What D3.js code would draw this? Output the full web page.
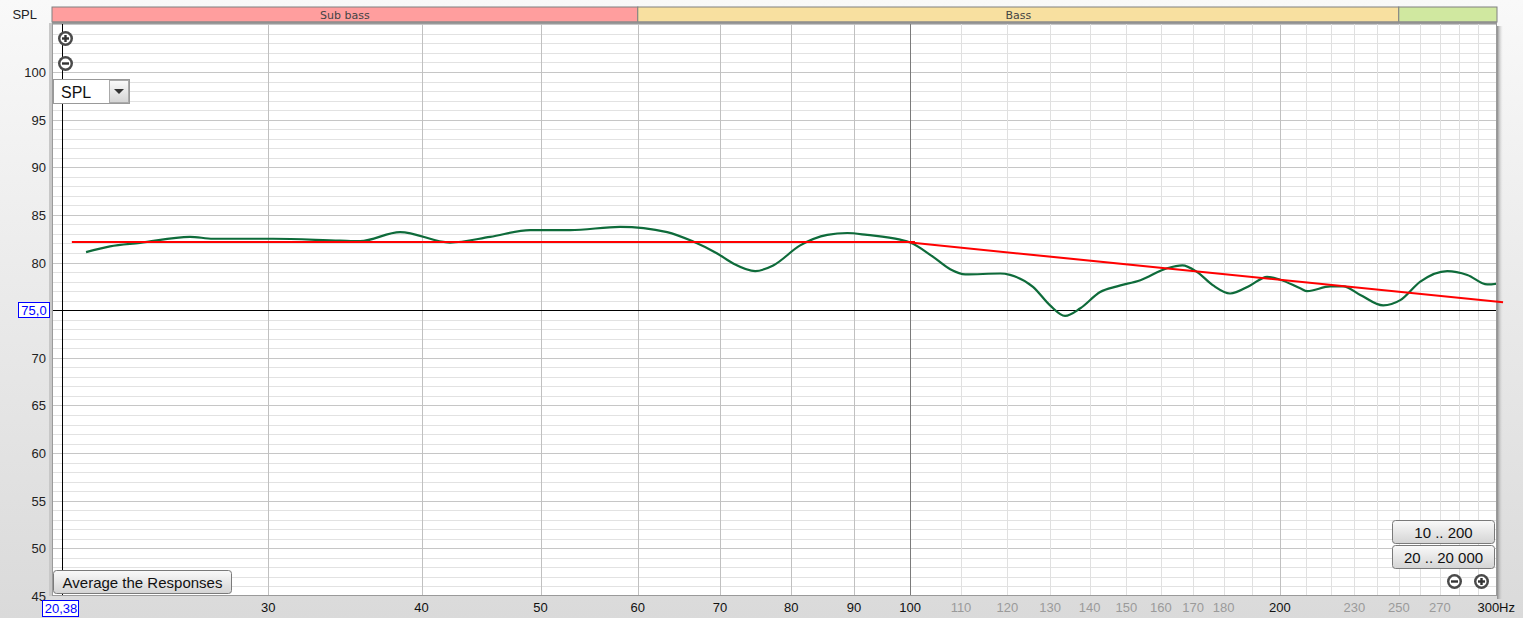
<!DOCTYPE html>
<html><head><meta charset="utf-8">
<script src="https://cdn.jsdelivr.net/npm/d3@7"></script>
<style>
html,body{margin:0;padding:0;overflow:hidden;background:#eee;}
text{font-family:"Liberation Sans",Arial,sans-serif;}
</style></head>
<body>
<svg id="c" width="1523" height="618"></svg>
<script>
// ---- data ----
const freqs = [21.32,22.30,23.59,25.91,27.05,30.27,34.33,35.64,38.42,42.19,45.49,49.03,52.86,58.04,63.40,66.57,69.64,71.76,74.78,77.35,81.36,85.60,88.87,92.26,98.15,100.0,104.4,107.8,110.9,118.4,120.6,125.9,130.0,133.7,137.6,142.8,147.4,154.0,161.9,166.6,171.3,176.5,182.2,189.2,195.3,200.2,207.8,210.6,219.9,225.3,232.6,242.8,250.7,260.3,273.8,284.3,295.1,300.7];
const spl   = [81.1,81.7,82.07,82.7,82.5,82.5,82.3,82.25,83.2,82.1,82.7,83.4,83.4,83.75,83.2,82.2,80.95,79.9,79.1,79.7,81.8,82.9,83.1,82.9,82.4,82.1,80.6,79.3,78.75,78.85,78.7,77.45,75.5,74.4,75.2,76.9,77.5,78.15,79.4,79.7,79.0,77.6,76.75,77.6,78.5,78.2,77.3,77.0,77.5,77.5,76.6,75.5,76.05,78.0,79.1,78.7,77.7,77.8];
const targetFlatFreq = [20.76, 100.9];
const targetFlatDb   = [82.15, 82.15];
const targetSlopeFreq = [100.0, 304.0];
const targetSlopeDb   = [82.1, 75.84];
const yTicks = [45,50,55,60,65,70,80,85,90,95,100];
const xTicksMajor = [30,40,50,60,70,80,90,100,200];
const xTicksMinorLabel = [110,120,130,140,150,160,170,180,230,250,270];
const bandNames = ["Sub bass","Bass",""];
const bandEdges = [[null,60],[60,250],[250,null]];
const bandColors = ["#FF9E9E","#F8E0A0","#D0E8A0"];

// ---- layout ----
const svg = d3.select("#c");
const L=52, R=1497, T=23, B=596;
const x = d3.scaleLog().domain([20.38,300]).range([62,1496]);
const y = d3.scaleLinear().domain([45,100]).range([596,72]);

const defs = svg.append("defs");
const bg = defs.append("linearGradient").attr("id","bg").attr("x1",0).attr("x2",0).attr("y1",0).attr("y2",1);
bg.append("stop").attr("offset","0%").attr("stop-color","#F9F9F9");
bg.append("stop").attr("offset","100%").attr("stop-color","#DADADA");
svg.append("rect").attr("width",1523).attr("height",618).attr("fill","url(#bg)");
const sh = defs.append("linearGradient").attr("id","sh").attr("x1",0).attr("x2",1).attr("y1",0).attr("y2",0);
sh.append("stop").attr("offset","0%").attr("stop-color","#888");
sh.append("stop").attr("offset","100%").attr("stop-color","#ddd").attr("stop-opacity",0);
const btn = defs.append("linearGradient").attr("id","btn").attr("x1",0).attr("x2",0).attr("y1",0).attr("y2",1);
btn.append("stop").attr("offset","0%").attr("stop-color","#FAFAFA");
btn.append("stop").attr("offset","100%").attr("stop-color","#D4D4D4");
defs.append("clipPath").attr("id","clip").append("rect").attr("x",L).attr("y",T).attr("width",R-L).attr("height",B-T);

// shadow & plot bg
svg.append("rect").attr("x",R).attr("y",T+3).attr("width",6).attr("height",B-T).attr("fill","url(#sh)");
svg.append("rect").attr("x",L-3).attr("y",T).attr("width",3).attr("height",B-T).attr("fill","#C8C8C8");
svg.append("rect").attr("x",L).attr("y",T).attr("width",R-L).attr("height",B-T).attr("fill","#fff");

// bands
bandEdges.forEach((e,i)=>{
  const x0 = e[0]===null ? L : x(e[0]);
  const x1 = e[1]===null ? R : x(e[1]);
  svg.append("rect").attr("x",x0).attr("y",7).attr("width",x1-x0).attr("height",15)
    .attr("fill",bandColors[i]).attr("stroke","#808080").attr("stroke-width",1);
  if(bandNames[i]) svg.append("text").attr("x",(x0+x1)/2).attr("y",18.5).attr("text-anchor","middle")
    .attr("fill","#444").style("font-family","DejaVu Sans, sans-serif").style("font-size","11px").text(bandNames[i]);
});
svg.append("line").attr("x1",L).attr("x2",R).attr("y1",22.5).attr("y2",22.5).attr("stroke","#909090").attr("stroke-width",2);

// grid
const g = svg.append("g").attr("clip-path","url(#clip)");
d3.range(45,106).forEach(v=>{
  g.append("line").attr("x1",L).attr("x2",R).attr("y1",Math.round(y(v))+0.5).attr("y2",Math.round(y(v))+0.5)
    .attr("stroke", v%5===0 ? "#C6C6C6" : "#E2E2E2");
});
const minorV = d3.range(110,300,10).filter(f=>f!==200);
minorV.forEach(f=>{
  g.append("line").attr("x1",Math.round(x(f))+0.5).attr("x2",Math.round(x(f))+0.5).attr("y1",T).attr("y2",B).attr("stroke","#E0E0E0");
});
xTicksMajor.forEach(f=>{
  g.append("line").attr("x1",Math.round(x(f))+0.5).attr("x2",Math.round(x(f))+0.5).attr("y1",T).attr("y2",B)
    .attr("stroke", f===100 ? "#7A7A7A" : "#C0C0C0");
});
// cursor lines
g.append("line").attr("x1",L).attr("x2",R).attr("y1",Math.round(y(75))+0.5).attr("y2",Math.round(y(75))+0.5).attr("stroke","#000");
g.append("line").attr("x1",Math.round(x(20.38))+0.5).attr("x2",Math.round(x(20.38))+0.5).attr("y1",T).attr("y2",B).attr("stroke","#000");

// frame
svg.append("rect").attr("x",L+0.5).attr("y",T+0.5).attr("width",R-L-1).attr("height",B-T-1).attr("fill","none").attr("stroke","#9A9A9A");

// curves
const line = d3.line().x(d=>x(d[0])).y(d=>y(d[1])).curve(d3.curveMonotoneX);
g.append("path").datum(freqs.map((f,i)=>[f,spl[i]])).attr("d",line)
  .attr("fill","none").attr("stroke","#0E6B3A").attr("stroke-width",2.2);
const rl = d3.line().x(d=>x(d[0])).y(d=>y(d[1]));
svg.append("path").datum(targetFlatFreq.map((f,i)=>[f,targetFlatDb[i]])).attr("d",rl)
  .attr("fill","none").attr("stroke","#FF0000").attr("stroke-width",2);
svg.append("path").datum(targetSlopeFreq.map((f,i)=>[f,targetSlopeDb[i]])).attr("d",rl)
  .attr("fill","none").attr("stroke","#FF0000").attr("stroke-width",2);

// y labels
svg.append("text").attr("x",37).attr("y",19).attr("text-anchor","end").attr("font-size",13).attr("fill","#222").text("SPL");
yTicks.forEach(v=>{
  svg.append("text").attr("x",46).attr("y",y(v)+5).attr("text-anchor","end").attr("font-size",13).attr("fill","#222").text(v);
});
svg.append("rect").attr("x",18.5).attr("y",302.5).attr("width",31).attr("height",15).attr("fill","#fff").attr("stroke","#0000FF");
svg.append("text").attr("x",34).attr("y",315).attr("text-anchor","middle").attr("font-size",13).attr("fill","#0000FF").text("75,0");

// x labels
xTicksMajor.forEach(f=>{
  svg.append("text").attr("x",x(f)).attr("y",612).attr("text-anchor","middle").attr("font-size",13).attr("fill","#111").text(f);
});
xTicksMinorLabel.forEach(f=>{
  svg.append("text").attr("x",x(f)).attr("y",612).attr("text-anchor","middle").attr("font-size",13).attr("fill","#9A9A9A").text(f);
});
svg.append("text").attr("x",1515).attr("y",612).attr("text-anchor","end").attr("font-size",13).attr("fill","#111").text("300Hz");
svg.append("rect").attr("x",42.5).attr("y",600.5).attr("width",36).attr("height",16).attr("fill","#fff").attr("stroke","#0000FF");
svg.append("text").attr("x",61).attr("y",613).attr("text-anchor","middle").attr("font-size",13).attr("fill","#0000FF").text("20,38");

// zoom icons
function icon(cx,cy,plus){
  svg.append("circle").attr("cx",cx).attr("cy",cy).attr("r",7.5).attr("fill","#4A4A4A");
  svg.append("circle").attr("cx",cx).attr("cy",cy).attr("r",5).attr("fill","#fff");
  svg.append("rect").attr("x",cx-3.5).attr("y",cy-1.2).attr("width",7).attr("height",2.4).attr("fill","#333");
  if(plus) svg.append("rect").attr("x",cx-1.2).attr("y",cy-3.5).attr("width",2.4).attr("height",7).attr("fill","#333");
}
icon(65.5,38.5,true); icon(65.5,63.5,false);
icon(1454.5,581.5,false); icon(1481.5,581.5,true);

// SPL dropdown
svg.append("rect").attr("x",53.5).attr("y",79.5).attr("width",76).attr("height",24).attr("fill","#fff").attr("stroke","#999");
svg.append("rect").attr("x",109.5).attr("y",80.5).attr("width",19).attr("height",22).attr("fill","url(#btn)").attr("stroke","#aaa");
svg.append("path").attr("d","M114,89 L124,89 L119,94 Z").attr("fill","#333");
svg.append("text").attr("x",61).attr("y",98).attr("font-size",16).attr("fill","#111").text("SPL");

// buttons
function button(x0,y0,w,h,label){
  svg.append("rect").attr("x",x0+0.5).attr("y",y0+0.5).attr("width",w).attr("height",h).attr("rx",3)
    .attr("fill","url(#btn)").attr("stroke","#7A7A7A");
  svg.append("text").attr("x",x0+w/2+0.5).attr("y",y0+h/2+6).attr("text-anchor","middle").attr("font-size",15).attr("fill","#111").text(label);
}
button(53,570,178,23,"Average the Responses");
button(1392,520,102,23,"10 .. 200");
button(1392,545,102,23,"20 .. 20 000");
</script>
</body></html>
